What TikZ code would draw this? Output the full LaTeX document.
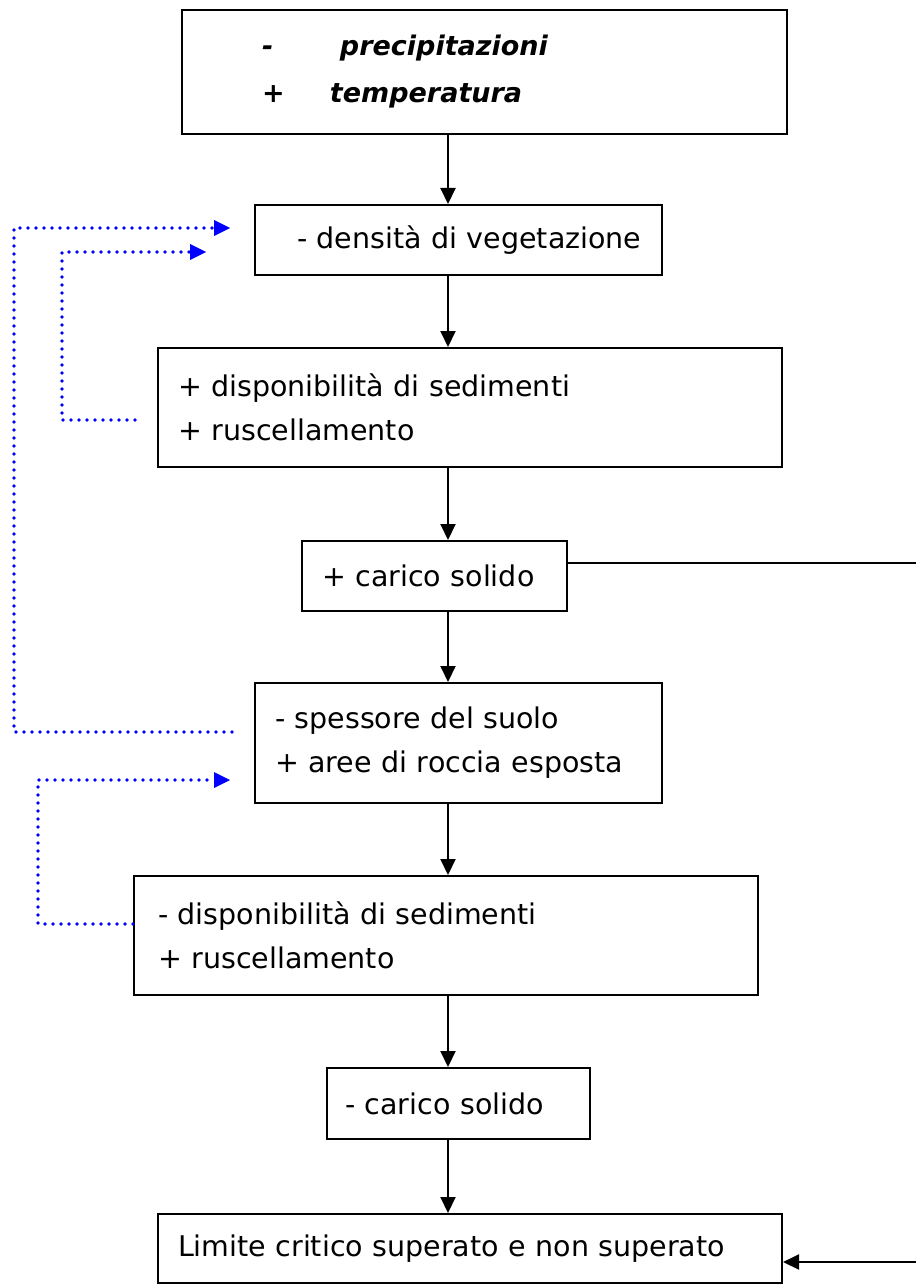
\documentclass[tikz,border=0pt]{standalone}
\usepackage{fontspec}
\setmainfont{DejaVu Sans}
\usetikzlibrary{arrows.meta}
\definecolor{loopblue}{RGB}{0,0,255}
\begin{document}
\begin{tikzpicture}[x=1pt,y=-1pt,
  box/.style={draw=black, line width=2pt, align=left, inner ysep=0pt,
    font=\fontsize{28.5}{44}\selectfont},
  flow/.style={line width=2pt, -{Triangle[length=16pt,width=15pt]}},
  plain/.style={line width=2pt},
  fb/.style={loopblue, line width=3.6pt, line cap=round,
    dash pattern=on 0pt off 8pt},
  fbarrow/.style={fb, -{Triangle[length=16pt,width=16pt,line width=0pt]}}]
\useasboundingbox (0,0) rectangle (916,1284);

\coordinate (col) at (448,0);

% boxes of the chain
\node[box, minimum height=124pt, inner xsep=80pt, text width=445pt,
      font=\fontsize{27}{47}\selectfont\bfseries\itshape] (b1) at (484.5,72)
  {\makebox[78pt][l]{-}precipitazioni\\\makebox[68pt][l]{+}temperatura};
\node[box, minimum height=70pt, inner xsep=16pt, text width=375pt] (b2) at (458.5,240)
  {\hspace*{26pt}- densità di vegetazione};
\node[box, minimum height=119pt, inner xsep=20pt, text width=584pt] (b3) at (470,407.5)
  {+ disponibilità di sedimenti\\+ ruscellamento};
\node[box, minimum height=70pt, inner xsep=20pt, text width=225pt] (b4) at (434.5,576)
  {+ carico solido};
\node[box, minimum height=120pt, inner xsep=20pt, text width=367pt] (b5) at (458.5,743)
  {- spessore del suolo\\+ aree di roccia esposta};
\node[box, minimum height=119pt, inner xsep=24pt, text width=576pt] (b6) at (446,935.5)
  {- disponibilità di sedimenti\\+ ruscellamento};
\node[box, minimum height=71pt, inner xsep=18pt, text width=227pt] (b7) at (458.5,1103.5)
  {- carico solido};
\node[box, minimum height=69pt, inner xsep=20pt, text width=584pt] (b8) at (470,1248.5)
  {Limite critico superato e non superato};

% main downward chain
\draw[flow] (b1.south -| col) -- (b2.north -| col);
\draw[flow] (b2.south -| col) -- (b3.north -| col);
\draw[flow] (b3.south -| col) -- (b4.north -| col);
\draw[flow] (b4.south -| col) -- (b5.north -| col);
\draw[flow] (b5.south -| col) -- (b6.north -| col);
\draw[flow] (b6.south -| col) -- (b7.north -| col);
\draw[flow] (b7.south -| col) -- (b8.north -| col);

% side link from the first solid load to the critical limit
\coordinate (rtop) at (916,563);
\coordinate (rbot) at (916,1262);
\draw[plain] (b4.east |- rtop) -- (rtop);
\draw[flow] (rbot) -- (b8.east |- rbot);

% dotted feedback loops
\coordinate (f1s) at (232,732);
\coordinate (f1e) at (230,228);
\draw[fbarrow] (f1s) -- (14,732) -- (14,228) -- (f1e);

\coordinate (f2s) at (135,420);
\coordinate (f2e) at (206,252);
\draw[fbarrow] (f2s) -- (62,420) -- (62,252) -- (f2e);

\coordinate (f3e) at (230,780);
\draw[fbarrow] (b6.west |- 0,924) -- (38,924) -- (38,780) -- (f3e);
\end{tikzpicture}
\end{document}
